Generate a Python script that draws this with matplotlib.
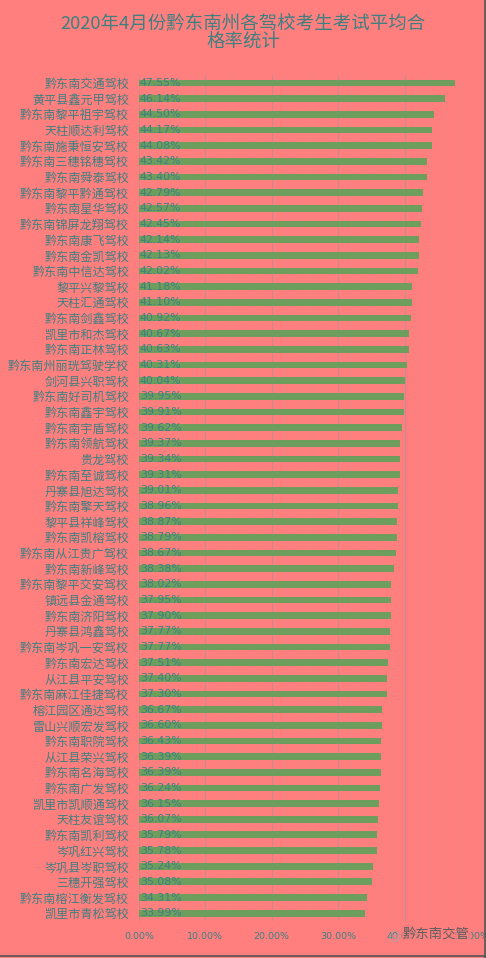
import matplotlib
matplotlib.use("Agg")
import matplotlib.pyplot as plt
from matplotlib.ticker import MultipleLocator, FuncFormatter

plt.rcParams['font.family'] = ['Noto Sans CJK SC', 'DejaVu Sans']

schools = [
    "黔东南交通驾校", "黄平县鑫元甲驾校", "黔东南黎平祖宇驾校", "天柱顺达利驾校",
    "黔东南施秉恒安驾校", "黔东南三穗铭穗驾校", "黔东南舜泰驾校", "黔东南黎平黔通驾校",
    "黔东南星华驾校", "黔东南锦屏龙翔驾校", "黔东南康飞驾校", "黔东南金凯驾校",
    "黔东南中信达驾校", "黎平兴黎驾校", "天柱汇通驾校", "黔东南剑鑫驾校",
    "凯里市和杰驾校", "黔东南正林驾校", "黔东南州丽珖驾驶学校", "剑河县兴职驾校",
    "黔东南好司机驾校", "黔东南鑫宇驾校", "黔东南宇盾驾校", "黔东南领航驾校",
    "贵龙驾校", "黔东南至诚驾校", "丹寨县旭达驾校", "黔东南擎天驾校",
    "黎平县祥峰驾校", "黔东南凯榕驾校", "黔东南从江贵广驾校", "黔东南新峰驾校",
    "黔东南黎平交安驾校", "镇远县金通驾校", "黔东南济阳驾校", "丹寨县鸿鑫驾校",
    "黔东南岑巩一安驾校", "黔东南宏达驾校", "从江县平安驾校", "黔东南麻江佳捷驾校",
    "榕江园区通达驾校", "雷山兴顺宏发驾校", "黔东南职院驾校", "从江县荣兴驾校",
    "黔东南名海驾校", "黔东南广发驾校", "凯里市凯顺通驾校", "天柱友谊驾校",
    "黔东南凯利驾校", "岑巩红兴驾校", "岑巩县岑职驾校", "三穗开强驾校",
    "黔东南榕江衡发驾校", "凯里市青松驾校",
]
pass_rate = [
    47.55, 46.14, 44.50, 44.17, 44.08, 43.42, 43.40, 42.79, 42.57, 42.45,
    42.14, 42.13, 42.02, 41.18, 41.10, 40.92, 40.67, 40.63, 40.31, 40.04,
    39.95, 39.91, 39.62, 39.37, 39.34, 39.31, 39.01, 38.96, 38.87, 38.79,
    38.67, 38.38, 38.02, 37.95, 37.90, 37.77, 37.77, 37.51, 37.40, 37.30,
    36.67, 36.60, 36.43, 36.39, 36.39, 36.24, 36.15, 36.07, 35.79, 35.78,
    35.24, 35.08, 34.31, 33.99,
]
title = "2020年4月份黔东南州各驾校考生考试平均合\n格率统计"
watermark = "黔东南交管"

bg = "#FF7F7F"
bar_color = "#6E9E5E"
text_color = "#3E8080"

fig = plt.figure(figsize=(4.86, 9.58), dpi=100, facecolor=bg)
ax = fig.add_axes([0.286, 0.0386, 0.683, 0.883], facecolor=bg)

y = range(len(schools))
ax.barh(y, pass_rate, height=0.43, color=bar_color, zorder=3)
for i, v in enumerate(pass_rate):
    ax.text(0.15, i, f"{v:.2f}%", va='center', ha='left', fontsize=7.9,
            color=text_color, family='DejaVu Sans', zorder=4)

ax.set_xlim(0, 50)
ax.set_ylim(len(schools) - 0.5, -0.5)
ax.set_yticks(list(y))
ax.set_yticklabels(schools)
ax.xaxis.set_major_locator(MultipleLocator(10))
ax.xaxis.set_minor_locator(MultipleLocator(2))
ax.xaxis.set_major_formatter(FuncFormatter(lambda v, p: f"{v:.2f}%"))
ax.tick_params(axis='y', length=0, pad=7, labelsize=8.7, labelcolor=text_color)
ax.tick_params(axis='x', which='both', length=0, pad=8, labelsize=6.8,
               labelcolor=text_color)
for lab in ax.get_xticklabels():
    lab.set_family('DejaVu Sans')
ax.grid(axis='x', which='major', color="#C98A8A", lw=0.8, zorder=0)
ax.grid(axis='x', which='minor', color="#EE8585", lw=0.6, zorder=0)
for s in ax.spines.values():
    s.set_visible(False)

fig.suptitle(title, y=0.9855, fontsize=13.3, color=text_color, linespacing=1.15)

# watermark at lower right, over the last tick labels
fig.text(0.898, 0.024, watermark, ha='center', va='center', fontsize=9.6,
         color="#4A5A5A", alpha=0.9,
         bbox=dict(boxstyle='square,pad=0.05', facecolor=bg, edgecolor='none', alpha=0.7))
fig.text(0.811, 0.024, "◎", ha='center', va='center', fontsize=10,
         color="#B0A0A0", family='DejaVu Sans')

# thin frame at right and bottom edges
fig.add_artist(plt.Line2D([0.997, 0.997], [0, 1], color="#555555", lw=1.2))
fig.add_artist(plt.Line2D([0, 1], [0.002, 0.002], color="#555555", lw=1.2))

fig.savefig("out.png", dpi=100, facecolor=bg)
